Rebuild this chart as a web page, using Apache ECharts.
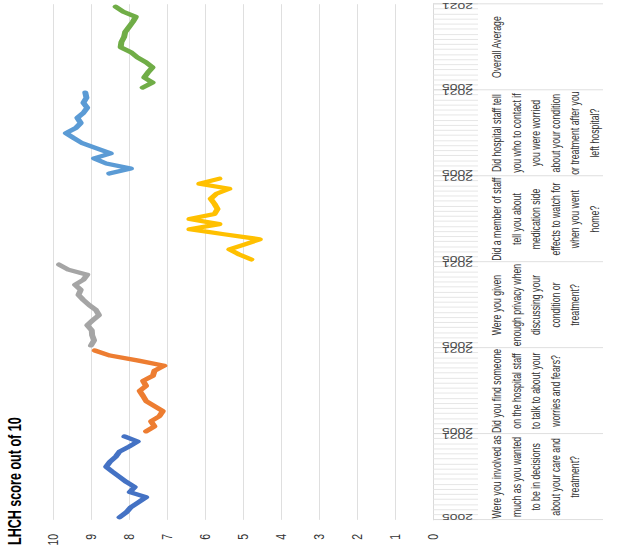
<!DOCTYPE html>
<html>
<head>
<meta charset="utf-8">
<script src="https://cdn.jsdelivr.net/npm/echarts@6/dist/echarts.min.js"></script>
<style>
  html, body { margin: 0; padding: 0; width: 621px; height: 559px; overflow: hidden; background: #fff; }
  /* The chart is laid out upright, squeezed horizontally and turned a quarter-turn anticlockwise */
  #chart {
    position: absolute; left: 0; top: 0;
    width: 800px; height: 621px;
    transform-origin: 0 0;
    transform: translate(0, 559px) rotate(-90deg) scaleX(0.69875);
  }
</style>
</head>
<body>
<div id="chart"></div>
<script>
// Survey years shown within every question block
const years = ['2005','2006','2007','2008','2009','2010','2011','2012','2013',
               '2014','2015','2016','2017','2018','2019','2020','2021'];

// Outer category level (line breaks as wrapped in the axis)
const questions = [
  'Were you involved as\nmuch as you wanted\nto be in decisions\nabout your care and\ntreatment?',
  'Did you find someone\non the hospital staff\nto talk to about your\nworries and fears?',
  'Were you given\nenough privacy when\ndiscussing your\ncondition or\ntreatment?',
  'Did a member of staff\ntell you about\nmedication side\neffects to watch for\nwhen you went\nhome?',
  'Did hospital staff tell\nyou who to contact if\nyou were worried\nabout your condition\nor treatment after you\nleft hospital?',
  'Overall Average'
];

// LHCH scores out of 10, one value per year
const involved       = [8.25, 8.07, 7.95, 7.75, 7.55, 7.98, 7.85, 8.07, 8.25, 8.43, 8.6, 8.5, 8.35, 8.25, 8.0, 7.77, 8.12];
const talkTo         = [7.55, 7.33, 7.42, 7.2, 7.11, 7.33, 7.55, 7.63, 7.72, 7.55, 7.63, 7.37, 7.33, 7.07, 7.75, 8.5, 8.9];
const privacy        = [9.0, 8.92, 8.97, 8.98, 9.1, 8.95, 8.79, 8.87, 9.05, 9.2, 9.33, 9.27, 9.42, 9.2, 9.1, 9.6, 9.84];
const sideEffects    = [4.78, 5.1, 5.36, 4.95, 4.56, 5.5, 6.41, 5.62, 6.41, 5.75, 5.67, 5.75, 5.85, 5.7, 5.36, 6.15, 5.62];
const whoToContact   = [8.52, 7.95, 8.6, 8.92, 8.48, 8.85, 9.23, 9.45, 9.66, 9.4, 9.27, 9.36, 9.2, 9.1, 9.2, 9.12, 9.15];
const overallAverage = [7.64, 7.38, 7.6, 7.5, 7.38, 7.55, 7.78, 7.95, 8.22, 8.2, 8.13, 8.1, 8.0, 7.9, 7.82, 8.15, 8.35];

const blocks = [involved, talkTo, privacy, sideEffects, whoToContact, overallAverage];
const colors = ['#4472C4', '#ED7D31', '#A5A5A5', '#FFC000', '#5B9BD5', '#70AD47'];
const valueTicks = { min: 0, max: 10, step: 1 };

const n = years.length;
// Inner category level: every year of every block (kept unique per block)
const yearCats = [];
questions.forEach((q, g) => years.forEach(y => yearCats.push(g + ':' + y)));

const series = blocks.map((vals, g) => {
  const data = new Array(yearCats.length).fill(null);
  vals.forEach((v, k) => { data[g * n + k] = v; });
  return {
    type: 'line',
    xAxisIndex: 0,
    data: data,
    showSymbol: false,
    symbol: 'none',
    connectNulls: false,
    lineStyle: { color: colors[g], width: 6, join: 'round', cap: 'round' },
    itemStyle: { color: colors[g] },
    z: 3
  };
});

const font = "'Liberation Sans', Arial, sans-serif";
const chart = echarts.init(document.getElementById('chart'), null, { renderer: 'svg' });
chart.setOption({
  animation: false,
  backgroundColor: '#fff',
  title: {
    text: 'LHCH score out of 10',
    left: 15, top: 1,
    textStyle: { fontFamily: font, fontSize: 18, fontWeight: 'bold', color: '#000' }
  },
  grid: { left: 56, right: 6, top: 53, bottom: 188, containLabel: false },
  xAxis: [
    {
      type: 'category',
      data: yearCats,
      boundaryGap: true,
      axisLine: { show: true, lineStyle: { color: '#d9d9d9', width: 1 } },
      axisTick: { show: true, interval: 0, length: 45, lineStyle: { color: '#e2e2e2', width: 1 } },
      axisLabel: {
        interval: (idx) => idx % n === 0 || idx % n === n - 1,
        rotate: 90,
        margin: 9,
        fontFamily: font, fontSize: 14, color: '#4a4a4a',
        formatter: (v) => v.split(':')[1]
      },
      splitLine: { show: false }
    },
    {
      type: 'category',
      data: questions,
      position: 'bottom',
      boundaryGap: true,
      axisLine: { show: false },
      axisTick: { show: true, interval: 0, length: 170, lineStyle: { color: '#d9d9d9', width: 1 } },
      axisLabel: {
        interval: 0,
        margin: 54,
        fontFamily: font, fontSize: 12.5, lineHeight: 19.5, color: '#333',
        align: 'center'
      },
      splitLine: { show: false }
    }
  ],
  yAxis: {
    type: 'value',
    min: valueTicks.min, max: valueTicks.max, interval: valueTicks.step,
    axisLine: { show: false },
    axisTick: { show: false },
    axisLabel: { margin: 20, fontFamily: font, fontSize: 15, color: '#333' },
    splitLine: { show: true, lineStyle: { color: '#d9d9d9', width: 1 } }
  },
  series: series
});
</script>
</body>
</html>
